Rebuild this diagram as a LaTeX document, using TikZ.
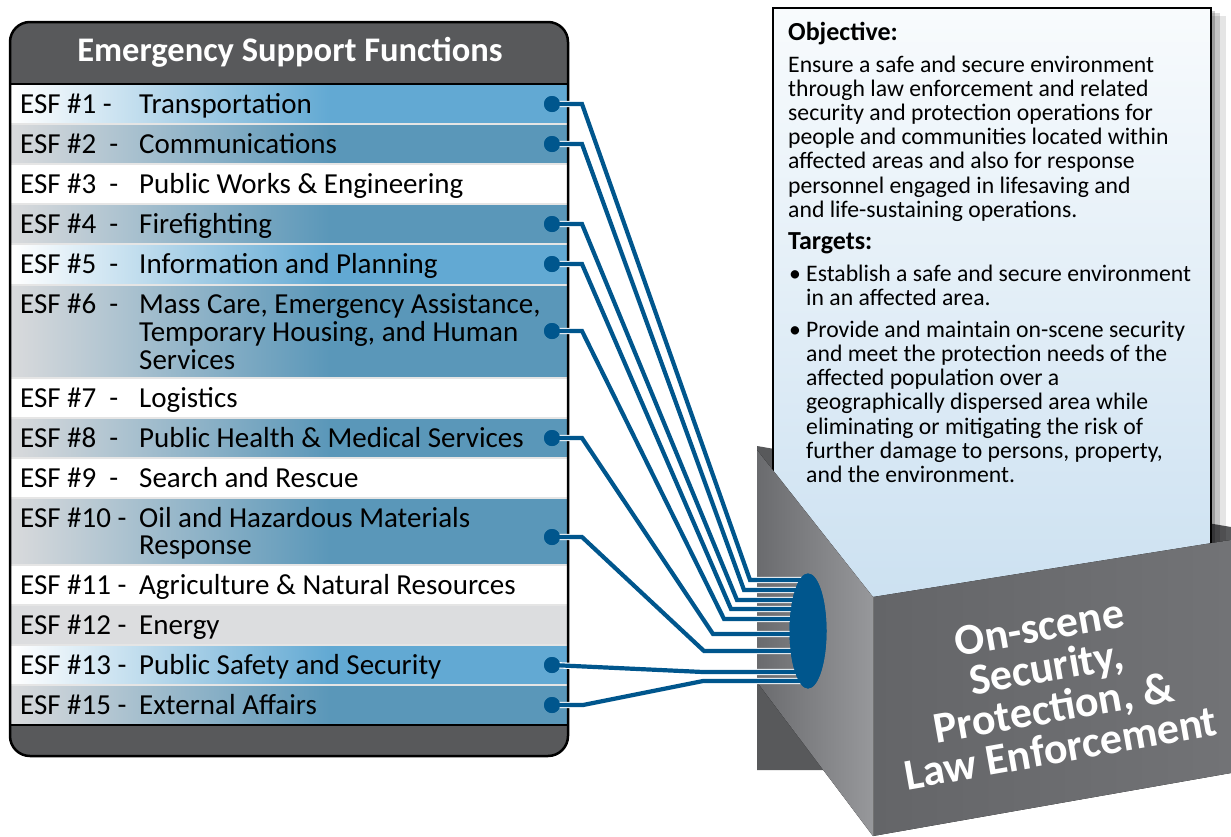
\documentclass[tikz,border=0pt]{standalone}
\usepackage{fontspec}
\setmainfont{Carlito}
\usetikzlibrary{shapes.geometric}
\definecolor{hdrc}{HTML}{58595B}
\definecolor{lblue}{HTML}{62A9D3}
\definecolor{sblue}{HTML}{5A97B9}
\definecolor{lgrey}{HTML}{DCDDDF}
\definecolor{rgrey}{HTML}{D9DADC}
\definecolor{cblue}{HTML}{00568D}
\definecolor{backc}{HTML}{58595B}
\definecolor{lfa}{HTML}{6A6B6E}
\definecolor{lfb}{HTML}{97989B}
\definecolor{ffa}{HTML}{646568}
\definecolor{ffb}{HTML}{727376}
\definecolor{papt}{HTML}{F8FBFD}
\definecolor{papb}{HTML}{C9DFF0}
\newcommand\esfrow[4]{%
  \fill[left color=#3,right color=#4] (11,#1) rectangle (330,#2);
  \fill[#4] (329.5,#1) rectangle (567,#2);}
\newcommand\mlines[1]{\begin{tabular}[t]{@{}l@{}}#1\end{tabular}}
\begin{document}
\begin{tikzpicture}[x=1pt,y=-1pt,
  lbl/.style={anchor=base west,inner sep=0pt,font=\fontsize{29}{27}\selectfont,text=black},
  dotn/.style={circle,fill=cblue,minimum size=16pt,inner sep=0pt},
  conn/.style={draw=white,double=cblue,double distance=4.2pt,line width=1.1pt},
  ptxt/.style={anchor=base west,inner sep=0pt,font=\fontsize{23.7}{24.2}\selectfont,text=black},
  ptbold/.style={anchor=base west,inner sep=0pt,font=\fontsize{26}{24.2}\selectfont\bfseries,text=black},
  boxtxt/.style={align=center,rotate=10,font=\fontsize{44}{41}\selectfont\bfseries,inner sep=0pt}]
\useasboundingbox (0,0) rectangle (1231,836);
\fill[white] (0,0) rectangle (1231,836);

% ---------- box back wall and paper ----------
\fill[backc] (757,446) -- (1231,527) -- (1231,770) -- (757,770) -- cycle;
\fill[black,opacity=0.10] (785,16) rectangle (1226,640);
\fill[black,opacity=0.14] (781,13) rectangle (1220,640);
\fill[black,opacity=0.20] (777,11) rectangle (1215,640);
\filldraw[draw=black,line width=2pt,top color=papt,bottom color=papb] (773,8) rectangle (1211,640);

\node[ptbold] (obj) at (788,40) {Objective:};
\node[ptxt] (objtxt) at (788,72) {\mlines{Ensure a safe and secure environment\\
through law enforcement and related\\
security and protection operations for\\
people and communities located within\\
affected areas and also for response\\
personnel engaged in lifesaving and\\
and life-sustaining operations.}};
\node[ptbold] (tgt) at (788,249) {Targets:};
\node[ptxt] (tgt1) at (789,281) {\begin{tabular}[t]{@{}p{17pt}@{}l@{}}
\textbullet & Establish a safe and secure environment\\
 & in an affected area.\\[7.8pt]
\textbullet & Provide and maintain on-scene security\\
 & and meet the protection needs of the\\
 & affected population over a\\
 & geographically dispersed area while\\
 & eliminating or mitigating the risk of\\
 & further damage to persons, property,\\
 & and the environment.\end{tabular}};

% ---------- box faces ----------
\fill[left color=lfa,right color=lfb] (757,450) -- (873,597) -- (873,836) -- (757,682) -- cycle;
\fill[left color=ffa,right color=ffb] (873,597) -- (1231,540) -- (1231,773) -- (873,836) -- cycle;
\draw[black!55,line width=1pt] (873,597) -- (873,836);

\node[boxtxt,text=white] (boxlabel) at (1050,688) {On-scene\\Security,\\Protection, \&\\Law Enforcement};

% ---------- ESF panel ----------
\esfrow{84}{124}{white}{lblue}
\esfrow{124}{164}{rgrey}{sblue}
\esfrow{164}{204}{white}{white}
\esfrow{204}{244}{rgrey}{sblue}
\esfrow{244}{285}{white}{lblue}
\esfrow{285}{378}{rgrey}{sblue}
\esfrow{378}{418}{white}{white}
\esfrow{418}{458}{rgrey}{sblue}
\esfrow{458}{498}{white}{white}
\esfrow{498}{565}{rgrey}{sblue}
\esfrow{565}{605}{white}{white}
\esfrow{605}{645}{lgrey}{lgrey}
\esfrow{645}{685}{white}{lblue}
\esfrow{685}{725}{rgrey}{sblue}
\foreach \yy in {124,164,204,244,285,378,418,458,498,565,605,645,685}
  \draw[white!80!gray,line width=1.2pt] (11,\yy) -- (567,\yy);
\fill[hdrc] (10,84) [rounded corners=20pt]-- (10,22) -- (568,22) [sharp corners]-- (568,84) -- cycle;
\fill[hdrc] (10,725) [rounded corners=20pt]-- (10,756) -- (568,756) [sharp corners]-- (568,725) -- cycle;
\draw[line width=2.2pt] (10,84) -- (568,84);
\draw[line width=2.2pt] (10,725) -- (568,725);
\draw[line width=2.5pt,rounded corners=20pt] (10,22) rectangle (568,756);

\node[text=white,font=\fontsize{34.5}{34}\selectfont\bfseries] (hdr) at (290,52) {Emergency Support Functions};

\node[lbl] (l1) at (20,113) {ESF \#1 -};
\node[lbl] (l2) at (20,153) {ESF \#2\hspace{13pt}-};
\node[lbl] (l3) at (20,193) {ESF \#3\hspace{13pt}-};
\node[lbl] (l4) at (20,233) {ESF \#4\hspace{13pt}-};
\node[lbl] (l5) at (20,273) {ESF \#5\hspace{13pt}-};
\node[lbl] (l6) at (20,313) {ESF \#6\hspace{13pt}-};
\node[lbl] (l7) at (20,407) {ESF \#7\hspace{13pt}-};
\node[lbl] (l8) at (20,447) {ESF \#8\hspace{13pt}-};
\node[lbl] (l9) at (20,487) {ESF \#9\hspace{13pt}-};
\node[lbl] (l10) at (20,527) {ESF \#10 -};
\node[lbl] (l11) at (20,594) {ESF \#11 -};
\node[lbl] (l12) at (20,634) {ESF \#12 -};
\node[lbl] (l13) at (20,674) {ESF \#13 -};
\node[lbl] (l15) at (20,714) {ESF \#15 -};

\node[lbl] (t1) at (139,113) {Transportation};
\node[lbl] (t2) at (139,153) {Communications};
\node[lbl] (t3) at (139,193) {Public Works \& Engineering};
\node[lbl] (t4) at (139,233) {Firefighting};
\node[lbl] (t5) at (139,273) {Information and Planning};
\node[lbl] (t6) at (139,313) {\mlines{Mass Care, Emergency Assistance,\\Temporary Housing, and Human\\Services}};
\node[lbl] (t7) at (139,407) {Logistics};
\node[lbl] (t8) at (139,447) {Public Health \& Medical Services};
\node[lbl] (t9) at (139,487) {Search and Rescue};
\node[lbl] (t10) at (139,527) {\mlines{Oil and Hazardous Materials\\Response}};
\node[lbl] (t11) at (139,594) {Agriculture \& Natural Resources};
\node[lbl] (t12) at (139,634) {Energy};
\node[lbl] (t13) at (139,674) {Public Safety and Security};
\node[lbl] (t15) at (139,714) {External Affairs};

% ---------- connectors ----------
\node[dotn] (d1) at (552,104) {};
\node[dotn] (d2) at (552,144) {};
\node[dotn] (d4) at (552,224) {};
\node[dotn] (d5) at (552,264) {};
\node[dotn] (d6) at (552,331) {};
\node[dotn] (d8) at (552,438) {};
\node[dotn] (d10) at (552,537) {};
\node[dotn] (d13) at (552,665) {};
\node[dotn] (d15) at (552,705) {};

\node[ellipse,fill=cblue,minimum width=37pt,minimum height=115pt,inner sep=0pt] (hub) at (808,631) {};

\coordinate (b1) at (750,580);
\coordinate (b2) at (744,590);
\coordinate (b4) at (737,600);
\coordinate (b5) at (731,609);
\coordinate (b6) at (724,619);
\coordinate (b8) at (713,634);
\coordinate (b10) at (704,651);
\coordinate (b13) at (703,672);
\coordinate (b15) at (703,681);
\coordinate (k15) at (583,705);

\draw[conn] (d1.center) -- ++(30,0) -- (b1) -- (b1 -| hub.center);
\draw[conn] (d2.center) -- ++(30,0) -- (b2) -- (b2 -| hub.center);
\draw[conn] (d4.center) -- ++(30,0) -- (b4) -- (b4 -| hub.center);
\draw[conn] (d5.center) -- ++(30,0) -- (b5) -- (b5 -| hub.center);
\draw[conn] (d6.center) -- ++(30,0) -- (b6) -- (b6 -| hub.center);
\draw[conn] (d8.center) -- ++(30,0) -- (b8) -- (b8 -| hub.center);
\draw[conn] (d10.center) -- ++(30,0) -- (b10) -- (b10 -| hub.center);
\draw[conn] (d13.center) -- (b13) -- (b13 -| hub.center);
\draw[conn] (d15.center) -- (k15) -- (b15) -- (b15 -| hub.center);

\fill[cblue] (hub.center) ellipse [x radius=18.5pt, y radius=57.5pt];
\foreach \d in {d1,d2,d4,d5,d6,d8,d10,d13,d15}
  \fill[cblue] (\d) circle (8pt);
\end{tikzpicture}
\end{document}
